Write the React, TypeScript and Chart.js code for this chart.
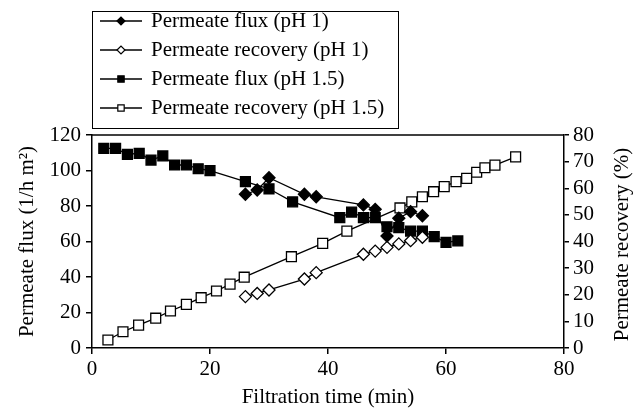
import React, { useEffect, useRef } from "react";
import { Chart, registerables } from "chart.js";

Chart.register(...registerables);

const FONT = "'Liberation Serif', 'Times New Roman', serif";

// Filtration time (min) and values
const fluxPH1Time = [26, 28, 30, 36, 38, 46, 48, 50, 52, 54, 56];
const fluxPH1 = [86.6, 89, 95.9, 86.6, 85.2, 80.6, 78.1, 63.1, 73.1, 76.8, 74.5];

const recoveryPH1Time = [26, 28, 30, 36, 38, 46, 48, 50, 52, 54, 56];
const recoveryPH1 = [19.3, 20.5, 21.8, 25.9, 28.3, 35.2, 36.4, 37.8, 39.1, 40.3, 41.6];

const fluxPH15Time = [2, 4, 6, 8, 10, 12, 14, 16, 18, 20, 26, 30, 34, 42, 44, 46, 48, 50, 52, 54, 56, 58, 60, 62];
const fluxPH15 = [112.5, 112.5, 109.1, 109.7, 105.9, 108.2, 103.1, 103.1, 101, 99.9, 93.7, 89.7, 82.3, 73.4, 76.6, 73.4, 73.4, 68.3, 67.8, 65.9, 65.9, 62.7, 59.5, 60.3];

const recoveryPH15Time = [2.7, 5.25, 7.9, 10.8, 13.3, 16, 18.5, 21.1, 23.4, 25.8, 33.8, 39.1, 43.2, 52.2, 54.2, 56, 57.9, 59.7, 61.7, 63.5, 65.2, 66.6, 68.3, 71.8];
const recoveryPH15 = [3.0, 6.1, 8.6, 11.2, 13.9, 16.4, 18.9, 21.4, 24.0, 26.6, 34.3, 39.3, 43.9, 52.6, 54.9, 56.8, 58.7, 60.6, 62.5, 63.7, 66.0, 67.7, 68.7, 71.8];

const seriesLabels = [
  "Permeate flux (pH 1)",
  "Permeate recovery (pH 1)",
  "Permeate flux (pH 1.5)",
  "Permeate recovery (pH 1.5)",
];

const xTitle = "Filtration time (min)";
const yLeftTitle = "Permeate flux (1/h m²)";
const yRightTitle = "Permeate recovery (%)";

const xRange = [0, 80];
const xStep = 20;
const yLeftRange = [0, 120];
const yLeftStep = 20;
const yRightRange = [0, 80];
const yRightStep = 10;

const toPoints = (xs: number[], ys: number[]) => xs.map((x, i) => ({ x, y: ys[i] }));

function drawMarker(ctx: CanvasRenderingContext2D, style: string, x: number, y: number, r: number, filled: boolean) {
  ctx.beginPath();
  if (style === "rectRot") {
    ctx.moveTo(x - r, y);
    ctx.lineTo(x, y - r);
    ctx.lineTo(x + r, y);
    ctx.lineTo(x, y + r);
    ctx.closePath();
  } else {
    const s = r * Math.SQRT1_2;
    ctx.rect(x - s, y - s, 2 * s, 2 * s);
  }
  ctx.fillStyle = filled ? "#000" : "#fff";
  ctx.fill();
  ctx.strokeStyle = "#000";
  ctx.lineWidth = 1.2;
  ctx.stroke();
}

const customPlugin = {
  id: "customDecor",
  afterDraw(chart: any) {
    const ctx: CanvasRenderingContext2D = chart.ctx;
    const { top, bottom, left, right } = chart.chartArea;
    ctx.save();
    // top frame line
    ctx.strokeStyle = "#000";
    ctx.lineWidth = 1.5;
    ctx.beginPath();
    ctx.moveTo(left, top);
    ctx.lineTo(right, top);
    ctx.stroke();

    // right axis title (reads bottom-to-top)
    ctx.save();
    ctx.translate(622, (top + bottom) / 2 + 3);
    ctx.rotate(-Math.PI / 2);
    ctx.font = `21px ${FONT}`;
    ctx.fillStyle = "#000";
    ctx.textAlign = "center";
    ctx.textBaseline = "middle";
    ctx.fillText(yRightTitle, 0, 0);
    ctx.restore();

    // legend box
    const bx = 92, by = 11, bw = 306, bh = 117;
    ctx.lineWidth = 1;
    ctx.strokeStyle = "#000";
    ctx.strokeRect(bx + 0.5, by + 0.5, bw, bh);
    const rows = [21, 50, 79, 108];
    chart.data.datasets.forEach((ds: any, i: number) => {
      const y = rows[i];
      ctx.strokeStyle = "#000";
      ctx.lineWidth = 1.3;
      ctx.beginPath();
      ctx.moveTo(100, y);
      ctx.lineTo(142, y);
      ctx.stroke();
      drawMarker(ctx, ds.pointStyle, 121, y, ds.pointStyle === "rectRot" ? 4 : 4.5, ds.pointBackgroundColor === "#000");
      ctx.font = `21px ${FONT}`;
      ctx.fillStyle = "#000";
      ctx.textAlign = "left";
      ctx.textBaseline = "middle";
      ctx.fillText(ds.label, 151, y);
    });
    ctx.restore();
  },
};

export default function App() {
  const ref = useRef<HTMLCanvasElement | null>(null);

  useEffect(() => {
    if (!ref.current) return;
    const tickFont = { family: FONT, size: 21, lineHeight: 1 };
    const common = {
      borderColor: "#000",
      borderWidth: 1.3,
      tension: 0,
      showLine: true,
      pointBorderColor: "#000",
      pointBorderWidth: 1.3,
    };
    const chart = new Chart(ref.current, {
      type: "scatter",
      data: {
        datasets: [
          {
            ...common,
            label: seriesLabels[0],
            data: toPoints(fluxPH1Time, fluxPH1),
            yAxisID: "y",
            pointStyle: "rectRot",
            pointRadius: 6,
            pointBackgroundColor: "#000",
          },
          {
            ...common,
            label: seriesLabels[1],
            data: toPoints(recoveryPH1Time, recoveryPH1),
            yAxisID: "y1",
            pointStyle: "rectRot",
            pointRadius: 6,
            pointBackgroundColor: "#fff",
          },
          {
            ...common,
            label: seriesLabels[2],
            data: toPoints(fluxPH15Time, fluxPH15),
            yAxisID: "y",
            pointStyle: "rect",
            pointRadius: 7,
            pointBackgroundColor: "#000",
          },
          {
            ...common,
            label: seriesLabels[3],
            data: toPoints(recoveryPH15Time, recoveryPH15),
            yAxisID: "y1",
            pointStyle: "rect",
            pointRadius: 7,
            pointBackgroundColor: "#fff",
          },
        ] as any,
      },
      options: {
        animation: false,
        responsive: false,
        layout: { padding: { top: 135, left: 0, right: 0, bottom: 0 } },
        plugins: {
          legend: { display: false },
          tooltip: { enabled: false },
        },
        scales: {
          x: {
            type: "linear",
            min: xRange[0],
            max: xRange[1],
            ticks: { stepSize: xStep, font: tickFont, color: "#000", padding: 5, maxRotation: 0 },
            grid: { display: true, drawOnChartArea: false, drawTicks: true, tickLength: 6, color: "#000", lineWidth: 1.5 },
            border: { display: true, color: "#000", width: 1.5 },
            title: { display: true, text: xTitle, font: { family: FONT, size: 21, lineHeight: 1 }, color: "#000", padding: { top: 0, bottom: 0 } },
            afterFit: (s: any) => { s.height = 60; },
          },
          y: {
            type: "linear",
            position: "left",
            min: yLeftRange[0],
            max: yLeftRange[1],
            ticks: { stepSize: yLeftStep, font: tickFont, color: "#000", padding: 5 },
            grid: { display: true, drawOnChartArea: false, drawTicks: true, tickLength: 6, color: "#000", lineWidth: 1.5 },
            border: { display: true, color: "#000", width: 1.5 },
            title: { display: true, text: yLeftTitle, font: { family: FONT, size: 21, lineHeight: 1 }, color: "#000", padding: { top: 17, bottom: 0 } },
            afterFit: (s: any) => { s.width = 92; },
          },
          y1: {
            type: "linear",
            position: "right",
            min: yRightRange[0],
            max: yRightRange[1],
            ticks: { stepSize: yRightStep, font: tickFont, color: "#000", padding: 4 },
            grid: { display: true, drawOnChartArea: false, drawTicks: true, tickLength: 5, color: "#000", lineWidth: 1.5 },
            border: { display: true, color: "#000", width: 1.5 },
            afterFit: (s: any) => { s.width = 70; },
          },
        },
      } as any,
      plugins: [customPlugin],
    });
    return () => chart.destroy();
  }, []);

  return (
    <div style={{ position: "fixed", left: 0, top: 0, width: 634, height: 408, background: "#fff" }}>
      <canvas ref={ref} width={634} height={408} style={{ display: "block" }} />
    </div>
  );
}
